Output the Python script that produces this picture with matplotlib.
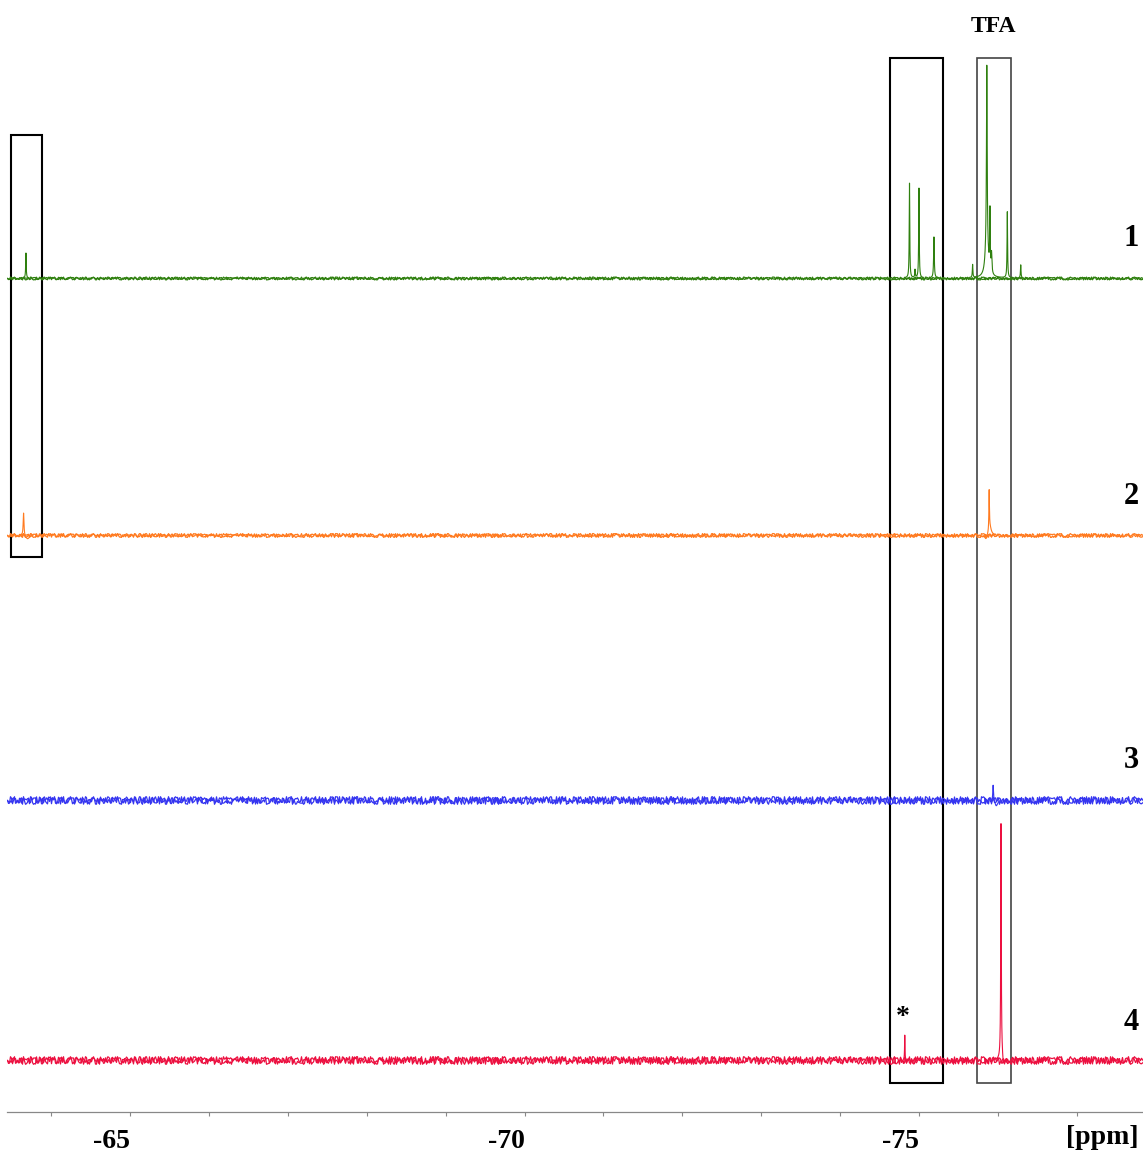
import numpy as np
import matplotlib.pyplot as plt
from matplotlib.patches import Rectangle

# 19F NMR traces: peak positions (ppm), heights and half widths (ppm)
labels = ['1', '2', '3', '4']
colors = ['#2f800f', '#ff7a1f', '#3535f0', '#ec1040']

peaks_1 = [-63.68, -74.88, -74.95, -75.00, -75.19, -75.68, -75.86, -75.86, -75.90, -75.92, -76.12, -76.29]
heights_1 = [25, 95, 8, 90, 41, 13, 172, 40, 60, 20, 66, 13]
widths_1 = [0.004, 0.004, 0.004, 0.004, 0.005, 0.004, 0.005, 0.02, 0.004, 0.006, 0.004, 0.004]

peaks_2 = [-63.65, -63.70, -75.85, -75.89, -75.90]
heights_2 = [23, -4, -5, 40, 8]
widths_2 = [0.006, 0.03, 0.02, 0.004, 0.02]

peaks_3 = [-75.94, -75.98]
heights_3 = [16, -6]
widths_3 = [0.005, 0.02]

peaks_4 = [-74.82, -76.04, -76.05, -76.07]
heights_4 = [25, 232, 8, -10]
widths_4 = [0.003, 0.004, 0.02, 0.015]

# highlighted regions (ppm from, ppm to)
box_ranges = [(-63.49, -63.89), (-74.63, -75.30), (-75.73, -76.17)]

spectra = [(peaks_1, heights_1, widths_1), (peaks_2, heights_2, widths_2),
           (peaks_3, heights_3, widths_3), (peaks_4, heights_4, widths_4)]

offsets = [834, 577, 312, 52]
noise_amp = [1.4, 1.9, 3.8, 3.8]
label_y = [873, 615, 352, 89]

fig = plt.figure(figsize=(11.43, 11.55), dpi=100)
ax = fig.add_axes([7 / 1143, 43 / 1155, 1136 / 1143, 1112 / 1155])
ax.set_xlim(-63.44, -77.84)
ax.set_ylim(0, 1112)

ppm = np.linspace(-63.44, -77.84, 30000)

for (pos, hgt, wid), off, col, amp in zip(spectra, offsets, colors, noise_amp):
    sig = np.zeros_like(ppm)
    for p, h, w in zip(pos, hgt, wid):
        sig += h * w ** 2 / ((ppm - p) ** 2 + w ** 2)
    # baseline drawn with sketch effects so it looks noisy
    for ln, k in [(0.6, 1.0), (1.3, 0.7)]:
        base, = ax.plot([ppm[0], ppm[-1]], [off, off], color=col, lw=0.9)
        base.set_sketch_params(scale=amp * k, length=ln, randomness=12)
    peak_part = np.where(np.abs(sig) > 0.6, sig + off, np.nan)
    ax.plot(ppm, peak_part, color=col, lw=0.8)

serif = 'Liberation Serif'

for lab, y in zip(labels, label_y):
    ax.text(-77.69, y, lab, fontsize=22, fontweight='bold', family=serif,
            ha='center', va='center')

ax.text(-75.94, 1086, 'TFA', fontsize=17, fontweight='bold', family=serif,
        ha='center', va='center')
ax.text(-74.80, 95, '*', fontsize=20, fontweight='bold', family=serif,
        ha='center', va='center')

for i, (a, b) in enumerate(box_ranges):
    if i == 0:
        y0, y1, ec, lw = 555, 977, 'black', 1.5
    elif i == 1:
        y0, y1, ec, lw = 29, 1054, 'black', 1.5
    else:
        y0, y1, ec, lw = 29, 1054, '#444444', 1.2
    ax.add_patch(Rectangle((a, y0), b - a, y1 - y0, fill=False, ec=ec, lw=lw))

for s in ['left', 'right', 'top']:
    ax.spines[s].set_visible(False)
ax.spines['bottom'].set_color('#888888')
ax.spines['bottom'].set_linewidth(0.9)
ax.set_yticks([])
ax.set_xticks([-65, -70, -75])
ax.set_xticklabels(['-65', '-70', '-75'], fontsize=20, fontweight='bold', family=serif)
ax.set_xticks(np.arange(-64, -78, -1), minor=True)
ax.tick_params(axis='x', which='both', direction='out', length=3, width=0.8,
               color='#888888', pad=9)
for t in ax.get_xticklabels():
    t.set_horizontalalignment('right')
ax.text(-77.32, -26, '[ppm]', fontsize=20, fontweight='bold', family=serif,
        ha='center', va='center', clip_on=False)

fig.savefig('out.png', dpi=100)
